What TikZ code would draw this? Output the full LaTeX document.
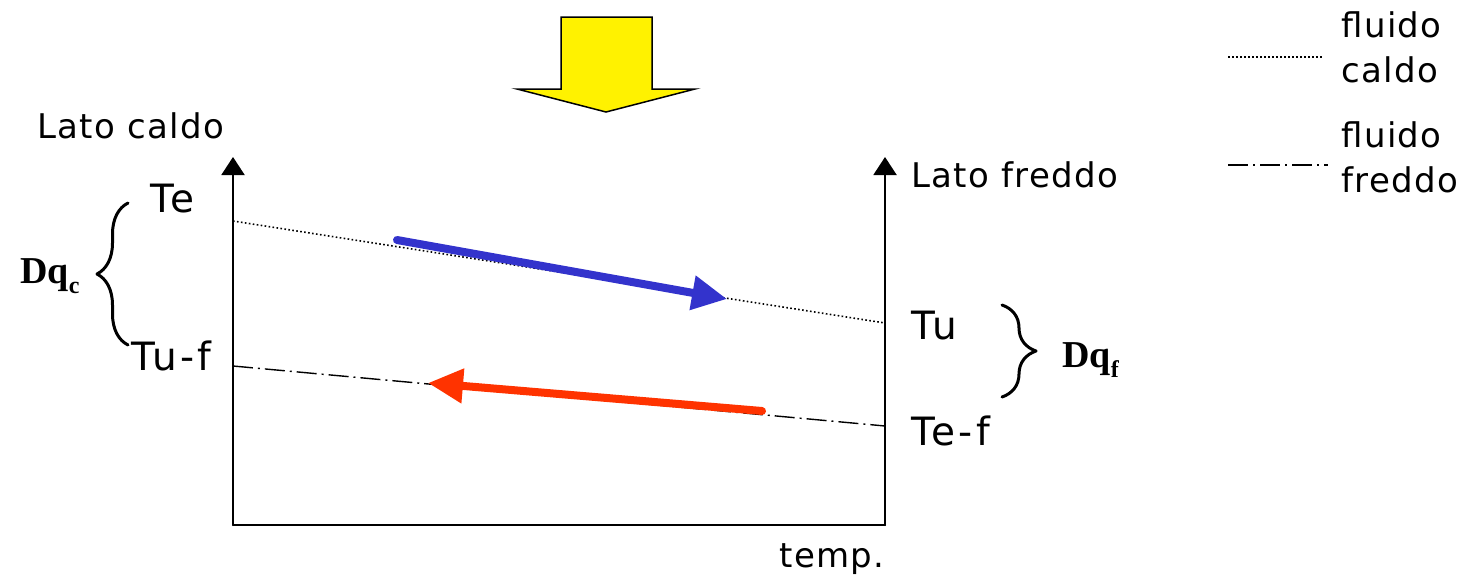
\documentclass[tikz,border=0pt]{standalone}
\usepackage{fontspec}
\setmainfont{DejaVu Sans}
\newfontfamily\dqfont{Liberation Serif}
\usetikzlibrary{arrows.meta,decorations.pathreplacing}

\begin{document}
\begin{tikzpicture}[x=0.5pt,y=-0.5pt,line cap=round,line join=round,
  every node/.style={inner sep=0pt,anchor=base west},
  lbl/.style={font=\addfontfeatures{LetterSpace=4}\fontsize{17}{19}\selectfont},
  tlbl/.style={font=\addfontfeatures{LetterSpace=8}\fontsize{19.5}{23}\selectfont},
  dq/.style={font=\dqfont\bfseries\fontsize{19}{23}\selectfont},
  hot/.style={line width=0.8pt,line cap=butt,dash pattern=on 0.8pt off 1.2pt},
  cold/.style={line width=0.7pt,line cap=butt,dash pattern=on 10pt off 2.5pt on 1pt off 2.5pt},
  axis/.style={line width=1pt,-{Triangle[length=9pt,width=11.5pt]}},
  flow/.style={line width=4pt,-{Triangle[length=17.5pt,width=16.5pt]}},
  curly/.style={line width=1.5pt,decorate,decoration={brace,amplitude=#1}}]
  \useasboundingbox (0,0) rectangle (1475,578);
  % freccia gialla
  \draw[fill=yellow,line width=0.75pt,line join=miter]
    (561,17) -- (652,17) -- (652,89) -- (695,89) -- (606,112) -- (517,89) -- (561,89) -- cycle;
  % assi
  \coordinate (o) at (233,525);
  \coordinate (ltop) at (233,157);
  \coordinate (r0) at (885,525);
  \coordinate (rtop) at (885,157);
  \draw[axis] (o) -- (ltop);
  \draw[axis] (r0) -- (rtop);
  \draw[line width=1pt] (o) -- (r0);
  % profili di temperatura
  \coordinate (hin) at (233,221);
  \coordinate (hout) at (885,323);
  \coordinate (cout) at (233,366);
  \coordinate (cin) at (885,426);
  \draw[hot] (hin) -- (hout);
  \draw[cold] (cout) -- (cin);
  \coordinate (b1) at (397,240);
  \coordinate (b2) at (727,299);
  \coordinate (f1) at (762,411);
  \coordinate (f2) at (428,383);
  \draw[flow,color={rgb,255:red,51;green,51;blue,204}] (b1) -- (b2);
  \draw[flow,color={rgb,255:red,255;green,51;blue,0}] (f1) -- (f2);
  % etichette
  \node[lbl] (latoc) at (37,138) {Lato caldo};
  \node[lbl] (latof) at (911,187) {Lato freddo};
  \node[lbl] (temp) at (779,567) {temp.};
  \node[tlbl] (te) at (150,212) {Te};
  \node[tlbl] (tuf) at (131,370) {Tu-f};
  \node[tlbl] (tu) at (911,339) {Tu};
  \node[tlbl] (tef) at (911,445) {Te-f};
  % graffe
  \coordinate (gc1) at (128,345);
  \coordinate (gc2) at (128,203);
  \coordinate (gf1) at (1002,305);
  \coordinate (gf2) at (1002,397);
  \draw[curly=15.5pt] (gc1) -- (gc2);
  \draw[curly=17pt] (gf1) -- (gf2);
  \node[dq] (dqc) at (20,283) {Dq\raisebox{-5pt}{\fontsize{12}{14}\selectfont c}};
  \node[dq] (dqf) at (1062,367) {Dq\raisebox{-5pt}{\fontsize{12}{14}\selectfont f}};
  % legenda
  \coordinate (lh1) at (1228,57);
  \coordinate (lh2) at (1322,57);
  \coordinate (lc1) at (1228,165);
  \coordinate (lc2) at (1328,165);
  \draw[hot] (lh1) -- (lh2);
  \draw[cold] (lc1) -- (lc2);
  \node[lbl] (fc1) at (1341,37) {fluido};
  \node[lbl] (fc2) at (1341,82) {caldo};
  \node[lbl] (ff1) at (1341,147) {fluido};
  \node[lbl] (ff2) at (1341,192) {freddo};
\end{tikzpicture}
\end{document}
